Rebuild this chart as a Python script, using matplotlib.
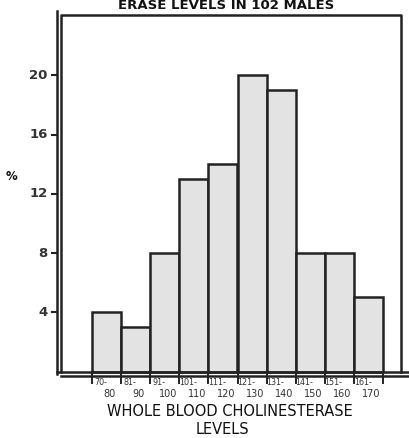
import matplotlib
matplotlib.use("Agg")
import matplotlib.pyplot as plt

lower = ["70-", "81-", "91-", "101-", "111-", "121-", "131-", "141-", "151-", "161-"]
upper = ["80", "90", "100", "110", "120", "130", "140", "150", "160", "170"]
percent = [4, 3, 8, 13, 14, 20, 19, 8, 8, 5]
yticks = [4, 8, 12, 16, 20]

W, H = 410, 438
fig = plt.figure(figsize=(W / 100, H / 100), dpi=100)
# pixel geometry of axes
L, R, T, B = 57, 401, 15, 374
ax = fig.add_axes([L / W, (H - B) / H, (R - L) / W, (B - T) / H])
x0, ux = 92, 29.1
y0, uy = 371.5, 14.81
ax.set_xlim((L - x0) / ux, (R - x0) / ux)
ax.set_ylim((y0 - B) / uy, (y0 - T) / uy)
for s in ax.spines.values():
    s.set_visible(False)

ink = "#222222"
xs = list(range(len(percent)))
ax.bar(xs, percent, width=1.0, align="edge", color="#e3e3e3",
       edgecolor=ink, linewidth=1.8, zorder=3)

xl, xr = ax.get_xlim()
yb, yt = ax.get_ylim()
lw = 1.8
# outer y-axis line
ax.plot([xl, xl], [yb, yt + 0.3], color=ink, lw=lw, clip_on=False)
# inner box
ax.plot([xl + 0.14, xl + 0.14, xr, xr], [0, yt, yt, 0], color=ink, lw=lw, clip_on=False)
# double baseline
ax.plot([xl, (410 - x0) / ux], [0.0, 0.0], color=ink, lw=lw, clip_on=False, zorder=4)
ax.plot([xl + 0.14, (410 - x0) / ux], [-0.3, -0.3], color=ink, lw=lw, clip_on=False, zorder=4)

ax.set_xticks([])
ax.set_yticks([])
# y ticks
for v in yticks:
    ax.plot([xl - 0.18, xl], [v, v], color=ink, lw=1.5, clip_on=False)
    ax.text(xl - 0.32, v, str(v), ha="right", va="center", fontsize=9.5,
            fontweight="bold", color="#333333")
# x tick marks at bar edges
for i in range(len(percent) + 1):
    ax.plot([i, i], [0, -0.75], color=ink, lw=1.4, clip_on=False)
for i in range(len(percent)):
    ax.text(i + 0.3, -0.75, lower[i], ha="center", va="center", fontsize=5.8, color="#333333")
    ax.text(i + 0.6, -1.55, upper[i], ha="center", va="center", fontsize=7, color="#333333")

fig.text(12 / W, 1 - 176 / H, "%", ha="center", va="center", fontsize=8.5,
         fontweight="bold", color="#111111")
fig.text(230 / W, 1 - 411 / H, "WHOLE BLOOD CHOLINESTERASE", ha="center", va="center",
         fontsize=10.5, color="#111111")
fig.text(222 / W, 1 - 429 / H, "LEVELS", ha="center", va="center",
         fontsize=10.5, color="#111111")
fig.text(226 / W, 1 - 5.5 / H, "ERASE LEVELS IN 102 MALES", ha="center", va="center",
         fontsize=9.5, fontweight="bold", color="#111111")

fig.savefig("out.png", dpi=100)
